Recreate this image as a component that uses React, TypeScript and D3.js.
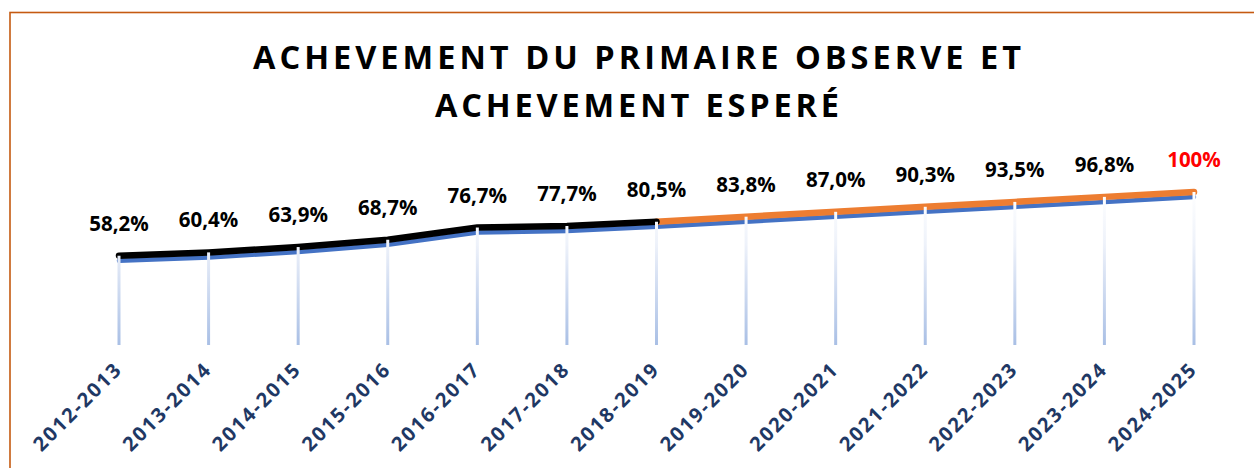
import React from "react";
import * as d3 from "d3";

const categories = [
  "2012-2013", "2013-2014", "2014-2015", "2015-2016", "2016-2017", "2017-2018",
  "2018-2019", "2019-2020", "2020-2021", "2021-2022", "2022-2023", "2023-2024", "2024-2025",
];
const values = [58.2, 60.4, 63.9, 68.7, 76.7, 77.7, 80.5, 83.8, 87.0, 90.3, 93.5, 96.8, 100];
const valueLabels = ["58,2%", "60,4%", "63,9%", "68,7%", "76,7%", "77,7%", "80,5%", "83,8%", "87,0%", "90,3%", "93,5%", "96,8%", "100%"];
const observedCount = 7; // 2012-2013 .. 2018-2019 observed, rest expected
const titleLines = ["ACHEVEMENT DU PRIMAIRE OBSERVE ET", "ACHEVEMENT ESPERÉ"];

const W = 1254;
const H = 468;

export default function App() {
  const x = d3.scalePoint<string>().domain(categories).range([119, 1194]);
  const y = d3.scaleLinear().domain([0, 100]).range([349.5, 197]);
  const offset = 5;
  const baseline = 345;

  const pts = categories.map((c, i) => ({ c, v: values[i], i }));
  const lineBlue = d3
    .line<{ c: string; v: number }>()
    .x((d) => x(d.c)!)
    .y((d) => y(d.v));
  const lineTop = d3
    .line<{ c: string; v: number }>()
    .x((d) => x(d.c)!)
    .y((d) => y(d.v) - offset);

  const observed = pts.slice(0, observedCount);
  const expected = pts.slice(observedCount - 1);

  const font = "'Open Sans', 'DejaVu Sans', sans-serif";

  return (
    <div style={{ position: "absolute", left: 0, top: 0 }}>
      <svg width={W} height={H} style={{ display: "block", background: "#fff" }}>
        <defs>
          <linearGradient id="dropGrad" gradientUnits="userSpaceOnUse" x1="0" y1="190" x2="0" y2={baseline}>
            <stop offset="0" stopColor="#ffffff" />
            <stop offset="0.35" stopColor="#eef2fa" />
            <stop offset="1" stopColor="#a9bfe5" />
          </linearGradient>
        </defs>
        <rect x={10} y={12.5} width={W + 20} height={H + 20} fill="#fff" stroke="#C55A11" strokeWidth={1.6} />

        {titleLines.map((t, i) => (
          <text
            key={t}
            x={637}
            y={69 + i * 48}
            textAnchor="middle"
            fontFamily={font}
            fontWeight={700}
            fontSize={32.5}
            fill="#000"
            textLength={i === 0 ? 768 : 404}
            lengthAdjust="spacing"
          >
            {t}
          </text>
        ))}

        <path d={lineBlue(pts) || ""} fill="none" stroke="#4472C4" strokeWidth={4.5} strokeLinecap="round" strokeLinejoin="round" />
        <path d={lineTop(expected) || ""} fill="none" stroke="#ED7D31" strokeWidth={6.5} strokeLinecap="round" strokeLinejoin="round" />
        <path d={lineTop(observed) || ""} fill="none" stroke="#000000" strokeWidth={6.5} strokeLinecap="round" strokeLinejoin="round" />

        {pts.map((d) => (
          <line
            key={"drop" + d.c}
            x1={x(d.c)}
            x2={x(d.c)}
            y1={y(d.v) - offset}
            y2={baseline}
            stroke="url(#dropGrad)"
            strokeWidth={3}
          />
        ))}

        {pts.map((d) => (
          <text
            key={"lab" + d.c}
            x={x(d.c)}
            y={y(d.v) - 30}
            textAnchor="middle"
            fontFamily={font}
            fontWeight={700}
            fontSize={20.5}
            fill={d.i === pts.length - 1 ? "#FF0000" : "#000"}
          >
            {valueLabels[d.i]}
          </text>
        ))}

        {categories.map((c) => (
          <text
            key={"cat" + c}
            transform={`translate(${x(c)! + 3},${372}) rotate(-45)`}
            textAnchor="end"
            fontFamily={font}
            fontWeight={700}
            fontSize={20}
            fill="#1F3864"
            textLength={114}
            lengthAdjust="spacing"
          >
            {c}
          </text>
        ))}
      </svg>
    </div>
  );
}
